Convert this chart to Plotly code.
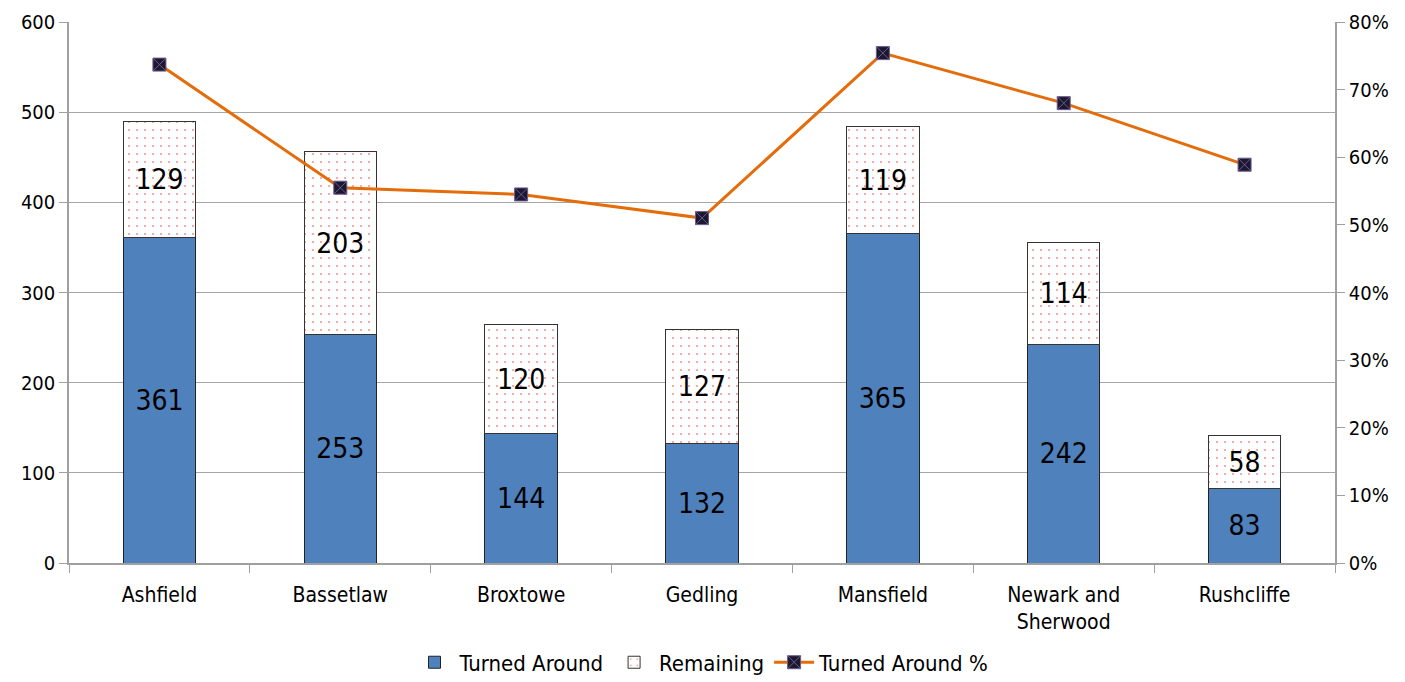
import plotly.graph_objects as go

categories = ["Ashfield", "Bassetlaw", "Broxtowe", "Gedling", "Mansfield", "Newark and<br>Sherwood", "Rushcliffe"]
turned_around = [361, 253, 144, 132, 365, 242, 83]
remaining = [129, 203, 120, 127, 119, 114, 58]
turned_pct = [0.737, 0.555, 0.545, 0.510, 0.754, 0.680, 0.589]

FONT = "DejaVu Sans Condensed, DejaVu Sans, sans-serif"

fig = go.Figure()
fig.add_trace(go.Bar(
    x=categories, y=turned_around, name="Turned Around",
    marker=dict(color="#4F81BD", line=dict(color="#222222", width=1)),
    text=turned_around, textposition="inside", insidetextanchor="middle",
    textangle=0, textfont=dict(size=28, color="#000000", family=FONT),
    yaxis="y",
))
fig.add_trace(go.Bar(
    x=categories, y=remaining, name="Remaining",
    marker=dict(color="#FFFFFF", line=dict(color="#333333", width=1),
                pattern=dict(shape=".", fgcolor="#E03030", bgcolor="#FFFFFF", size=8, solidity=0.06)),
    text=remaining, textposition="inside", insidetextanchor="middle",
    textangle=0, textfont=dict(size=28, color="#000000", family=FONT),
    yaxis="y",
))
fig.add_trace(go.Scatter(
    x=categories, y=turned_pct, name="Turned Around %", mode="lines+markers",
    line=dict(color="#E46C0A", width=3),
    marker=dict(symbol="square-x", size=13, color="#1C1830", line=dict(color="#6A5A90", width=1)),
    yaxis="y2",
))

fig.update_layout(
    width=1405, height=682,
    margin=dict(l=69, r=70, t=22, b=119, autoexpand=False),
    paper_bgcolor="#FFFFFF", plot_bgcolor="#FFFFFF",
    barmode="stack", bargap=0.6,
    font=dict(family=FONT, size=20, color="#000000"),
    showlegend=True,
    legend=dict(orientation="h", x=0.5, xanchor="center", y=-0.145, yanchor="top",
                font=dict(size=22), traceorder="normal", itemwidth=40,
                tracegroupgap=0),
    xaxis=dict(showline=True, linecolor="#A0A0A0", linewidth=1.5, ticks="outside",
               tickson="boundaries", ticklen=8, tickcolor="#A0A0A0",
               tickfont=dict(size=21), showgrid=False, automargin=False,
               ticklabelstandoff=12),
    yaxis=dict(range=[0, 600], dtick=100, showline=True, linecolor="#A0A0A0", linewidth=1.5,
               ticks="outside", ticklen=8, tickcolor="#A0A0A0", showgrid=True,
               gridcolor="#A6A6A6", gridwidth=1.2, tickfont=dict(size=20), zeroline=False,
               automargin=False),
    yaxis2=dict(range=[0, 0.8], dtick=0.1, tickformat=".0%", overlaying="y", side="right",
                showline=True, linecolor="#A0A0A0", linewidth=1.5, ticks="outside", ticklen=8,
                tickcolor="#A0A0A0", showgrid=False, tickfont=dict(size=20), zeroline=False,
                automargin=False),
)

fig.write_html("out.html")
